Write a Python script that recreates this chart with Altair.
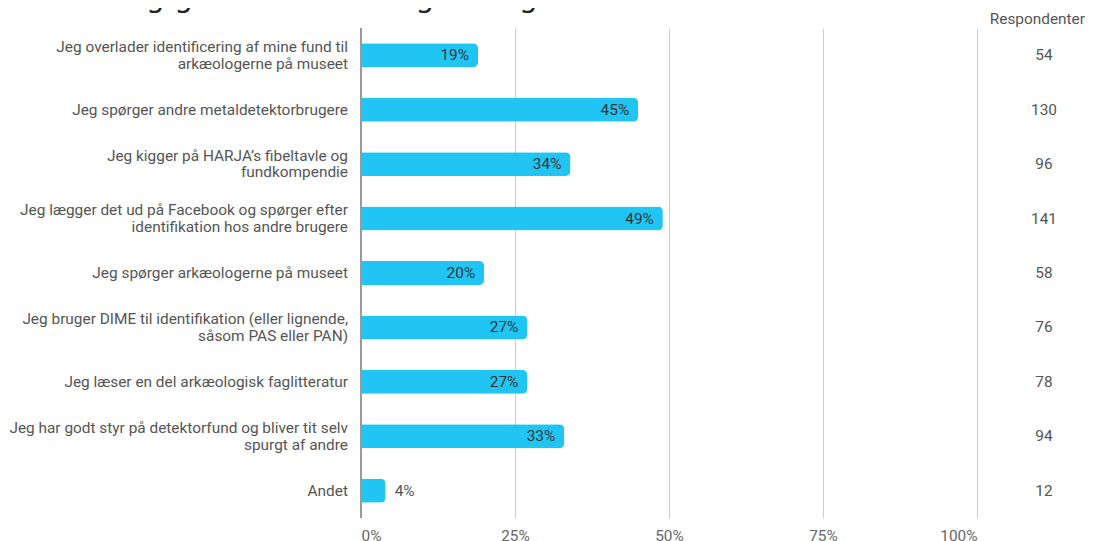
import altair as alt
import pandas as pd

categories = [
    "Jeg overlader identificering af mine fund til\narkæologerne på museet",
    "Jeg spørger andre metaldetektorbrugere",
    "Jeg kigger på HARJA’s fibeltavle og\nfundkompendie",
    "Jeg lægger det ud på Facebook og spørger efter\nidentifikation hos andre brugere",
    "Jeg spørger arkæologerne på museet",
    "Jeg bruger DIME til identifikation (eller lignende,\nsåsom PAS eller PAN)",
    "Jeg læser en del arkæologisk faglitteratur",
    "Jeg har godt styr på detektorfund og bliver tit selv\nspurgt af andre",
    "Andet",
]
percent = [19, 45, 34, 49, 20, 27, 27, 33, 4]
respondents = [54, 130, 96, 141, 58, 76, 78, 94, 12]
tick_values = [0, 25, 50, 75, 100]
title_text = "hertil. Vælg gerne flere udsagn - dog maks. tre."
column_header = "Respondenter"

df = pd.DataFrame({
    "cat": categories,
    "pct": percent,
    "n": respondents,
    "lines": [c.count("\n") + 1 for c in categories],
})

BAR = "#20c5f3"
FONT = "Roboto"
FS = 15.4
LH = 16.6

y_enc = alt.Y("cat:N", sort=categories, axis=None,
              scale=alt.Scale(paddingInner=0.56, paddingOuter=0.28))
y_plain = alt.Y("cat:N", sort=categories)
x_enc = alt.X("pct:Q",
              scale=alt.Scale(domain=[0, 100], nice=False),
              axis=alt.Axis(values=tick_values, labelExpr="datum.value + '%'",
                            grid=True, gridColor="#cccccc", gridWidth=1,
                            domain=False, ticks=False, labelFlush=True,
                            labelPadding=10, labelFontSize=FS, labelFont=FONT,
                            labelColor="#666666", title=None))

base = alt.Chart(df)

bars = base.mark_bar(color=BAR, cornerRadiusEnd=5).encode(x=x_enc, y=y_enc)

zero = base.mark_rule(color="#999999", strokeWidth=1).encode(x=alt.datum(0))

inside = base.transform_filter("datum.pct >= 10").transform_calculate(
    lbl="datum.pct + '%'"
).mark_text(align="right", baseline="middle", dx=-9, font=FONT, fontSize=FS,
            color="#333333").encode(x="pct:Q", y=y_plain, text="lbl:N")

outside = base.transform_filter("datum.pct < 10").transform_calculate(
    lbl="datum.pct + '%'"
).mark_text(align="left", baseline="middle", dx=9, font=FONT, fontSize=FS,
            color="#555555").encode(x="pct:Q", y=y_plain, text="lbl:N")

label_style = dict(align="right", baseline="middle", lineBreak="\n",
                   lineHeight=LH, font=FONT, fontSize=FS, color="#555555")

labels_one = base.transform_filter("datum.lines == 1").mark_text(
    **label_style).encode(x=alt.value(-13), y=y_plain, text="cat:N")

labels_two = base.transform_filter("datum.lines == 2").mark_text(
    dy=-LH / 2, **label_style).encode(x=alt.value(-13), y=y_plain, text="cat:N")

resp = base.mark_text(align="center", baseline="middle", font=FONT, fontSize=FS,
                      color="#555555").encode(
    x=alt.value(683), y=y_plain, text="n:Q")

header = alt.Chart(pd.DataFrame({"t": [column_header]})).mark_text(
    align="right", baseline="middle", font=FONT, fontSize=FS, color="#555555"
).encode(x=alt.value(724), y=alt.value(-9), text="t:N")

title = alt.Chart(pd.DataFrame({"t": [title_text]})).mark_text(
    align="left", baseline="alphabetic", font="DejaVu Sans", fontSize=29.5,
    color="#222222"
).encode(x=alt.value(-368), y=alt.value(-21), text="t:N")

chart = alt.layer(bars, zero, inside, outside, labels_one, labels_two, resp,
                  header, title).properties(
    width=616, height=490,
    autosize=alt.AutoSizeParams(type="none"),
    padding={"left": 353, "top": 20, "right": 108, "bottom": 30},
).configure_view(stroke="transparent")

chart.save("out.html", embed_options={"renderer": "svg", "actions": False})
